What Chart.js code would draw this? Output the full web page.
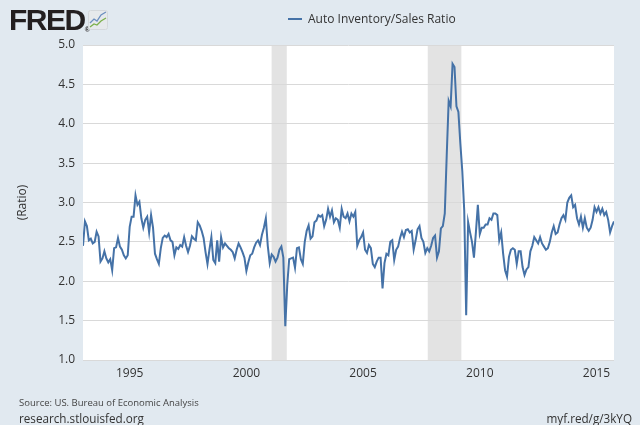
<!DOCTYPE html>
<html>
<head>
<meta charset="utf-8">
<script src="https://cdn.jsdelivr.net/npm/chart.js@4.4.1/dist/chart.umd.min.js"></script>
<style>
html,body{margin:0;padding:0;background:#e1e9f0;}
#wrap{position:relative;width:640px;height:425px;overflow:hidden;background:#e1e9f0;font-family:"Open Sans",sans-serif;}
#c{position:absolute;left:0;top:0;}
#logo{position:absolute;left:9px;top:5px;font-family:"Liberation Sans",Arial,sans-serif;font-weight:bold;font-size:30px;line-height:30px;color:#231f20;letter-spacing:-1.5px;}
#logo sup{font-size:7px;letter-spacing:0;vertical-align:0;position:relative;top:2px;}
#icon{position:absolute;left:88px;top:10px;}
#legend{position:absolute;left:288px;top:10px;height:18px;line-height:18px;font-size:12px;color:#333;white-space:nowrap;}
#legend .sw{display:inline-block;width:14px;height:2px;background:#4572a7;vertical-align:middle;margin-right:6px;position:relative;top:-1px;}
#src{position:absolute;left:19px;top:396px;font-size:9.5px;color:#444;white-space:nowrap;}
#site{position:absolute;left:19px;top:410px;font-size:11.7px;color:#333;white-space:nowrap;}
#short{position:absolute;right:8px;top:410px;font-size:11.7px;color:#333;white-space:nowrap;}
</style>
</head>
<body>
<div id="wrap">
<canvas id="c" width="640" height="425"></canvas>
<div id="logo">FRED<sup>®</sup></div>
<svg id="icon" width="20" height="20" viewBox="0 0 20 20">
<rect x="0.5" y="0.5" width="19" height="19" rx="2" fill="#e6e9ec" stroke="#d4d8dc"/>
<polyline points="2,13 6,9 9,11 13,5 18,2" fill="none" stroke="#6c8fc0" stroke-width="1.3"/>
<polyline points="2,17 6,14 9,15 13,11 18,8" fill="none" stroke="#7bb04a" stroke-width="1.3"/>
</svg>
<div id="legend"><span class="sw"></span>Auto Inventory/Sales Ratio</div>
<div id="src">Source: US. Bureau of Economic Analysis</div>
<div id="site">research.stlouisfed.org</div>
<div id="short">myf.red/g/3kYQ</div>
</div>
<script>
// Monthly Auto Inventory/Sales Ratio, starting January 1993
const startYear = 1993;
const ratio = [
2.45,2.76,2.70,2.52,2.54,2.48,2.50,2.63,2.57,2.25,2.29,2.38,
2.29,2.24,2.28,2.14,2.42,2.43,2.55,2.44,2.40,2.33,2.29,2.33,
2.69,2.82,2.82,3.09,2.97,3.01,2.80,2.68,2.78,2.82,2.62,2.84,
2.68,2.35,2.28,2.22,2.42,2.55,2.58,2.56,2.60,2.52,2.50,2.33,
2.43,2.41,2.46,2.44,2.56,2.45,2.37,2.45,2.57,2.54,2.52,2.75,
2.71,2.64,2.55,2.37,2.22,2.40,2.56,2.27,2.23,2.52,2.25,2.56,
2.43,2.48,2.45,2.42,2.40,2.37,2.29,2.40,2.48,2.43,2.37,2.30,
2.13,2.24,2.33,2.35,2.43,2.49,2.52,2.46,2.59,2.68,2.80,2.45,
2.23,2.34,2.31,2.25,2.30,2.40,2.44,2.30,1.43,1.95,2.28,2.29,
2.30,2.17,2.42,2.43,2.28,2.22,2.50,2.64,2.71,2.54,2.57,2.75,
2.77,2.84,2.82,2.84,2.70,2.78,2.92,2.82,2.90,2.75,2.80,2.78,
2.68,2.92,2.82,2.80,2.86,2.76,2.86,2.82,2.88,2.45,2.52,2.56,
2.62,2.40,2.36,2.46,2.42,2.22,2.18,2.25,2.30,2.30,1.91,2.23,
2.35,2.33,2.50,2.52,2.27,2.40,2.44,2.55,2.63,2.56,2.65,2.66,
2.62,2.64,2.40,2.52,2.66,2.70,2.55,2.50,2.36,2.42,2.38,2.45,
2.55,2.58,2.30,2.38,2.67,2.70,2.86,3.60,4.29,4.22,4.76,4.72,
4.22,4.15,3.75,3.40,2.90,1.57,2.75,2.62,2.50,2.30,2.62,2.97,
2.60,2.68,2.68,2.72,2.72,2.80,2.78,2.86,2.86,2.84,2.52,2.62,
2.35,2.14,2.06,2.31,2.40,2.42,2.40,2.22,2.38,2.38,2.18,2.08,
2.15,2.18,2.38,2.45,2.56,2.52,2.48,2.56,2.48,2.44,2.40,2.42,
2.50,2.62,2.70,2.60,2.62,2.72,2.80,2.84,2.78,3.00,3.06,3.09,
2.94,2.97,2.80,2.72,2.82,2.68,2.80,2.68,2.64,2.68,2.78,2.94,
2.88,2.94,2.86,2.92,2.84,2.88,2.78,2.62,2.70,2.76
];
const xTickYears = [1995, 2000, 2005, 2010, 2015];
const yTickValues = [1.0, 1.5, 2.0, 2.5, 3.0, 3.5, 4.0, 4.5, 5.0];
const recessionStarts = [2001.08, 2007.77];
const recessionEnds = [2001.73, 2009.21];

const bgPlugin = {
  id: 'bg',
  beforeDraw(chart) {
    const {ctx, chartArea: a, scales} = chart;
    ctx.save();
    ctx.fillStyle = '#ffffff';
    ctx.fillRect(a.left, a.top, a.right - a.left, a.bottom - a.top);
    ctx.fillStyle = '#e3e3e3';
    recessionStarts.forEach((s, i) => {
      const x0 = scales.x.getPixelForValue(s);
      const x1 = scales.x.getPixelForValue(recessionEnds[i]);
      ctx.fillRect(x0, a.top, x1 - x0, a.bottom - a.top);
    });
    ctx.restore();
  }
};

const font = {family: '"Open Sans", sans-serif', size: 12};
new Chart(document.getElementById('c'), {
  type: 'line',
  data: {
    datasets: [{
      label: 'Auto Inventory/Sales Ratio',
      data: ratio.map((v, i) => ({x: startYear + i / 12, y: v})),
      borderColor: '#4572a7',
      borderWidth: 2,
      pointRadius: 0,
      fill: false,
      tension: 0
    }]
  },
  options: {
    responsive: false,
    animation: false,
    layout: {padding: {top: 45, right: 26, left: 0, bottom: 0}},
    plugins: {legend: {display: false}, tooltip: {enabled: false}},
    scales: {
      x: {
        type: 'linear',
        min: startYear,
        max: startYear + (ratio.length - 1) / 12,
        afterBuildTicks: s => { s.ticks = xTickYears.map(v => ({value: v})); },
        afterFit: s => { s.height = 65; },
        grid: {display: false, drawTicks: false},
        border: {display: false},
        ticks: {padding: 6, color: '#333', font, maxRotation: 0, autoSkip: false, callback: v => String(v)}
      },
      y: {
        min: 1, max: 5,
        afterBuildTicks: s => { s.ticks = yTickValues.map(v => ({value: v})); },
        afterFit: s => { s.width = 83; },
        grid: {color: '#d9d9d9', drawTicks: false, lineWidth: 1},
        border: {display: false},
        ticks: {padding: 8, color: '#333', font, callback: v => Number(v).toFixed(1)},
        title: {display: true, text: '(Ratio)', color: '#333', font, padding: {top: 15, bottom: 0}}
      }
    }
  },
  plugins: [bgPlugin]
});
</script>
</body>
</html>
